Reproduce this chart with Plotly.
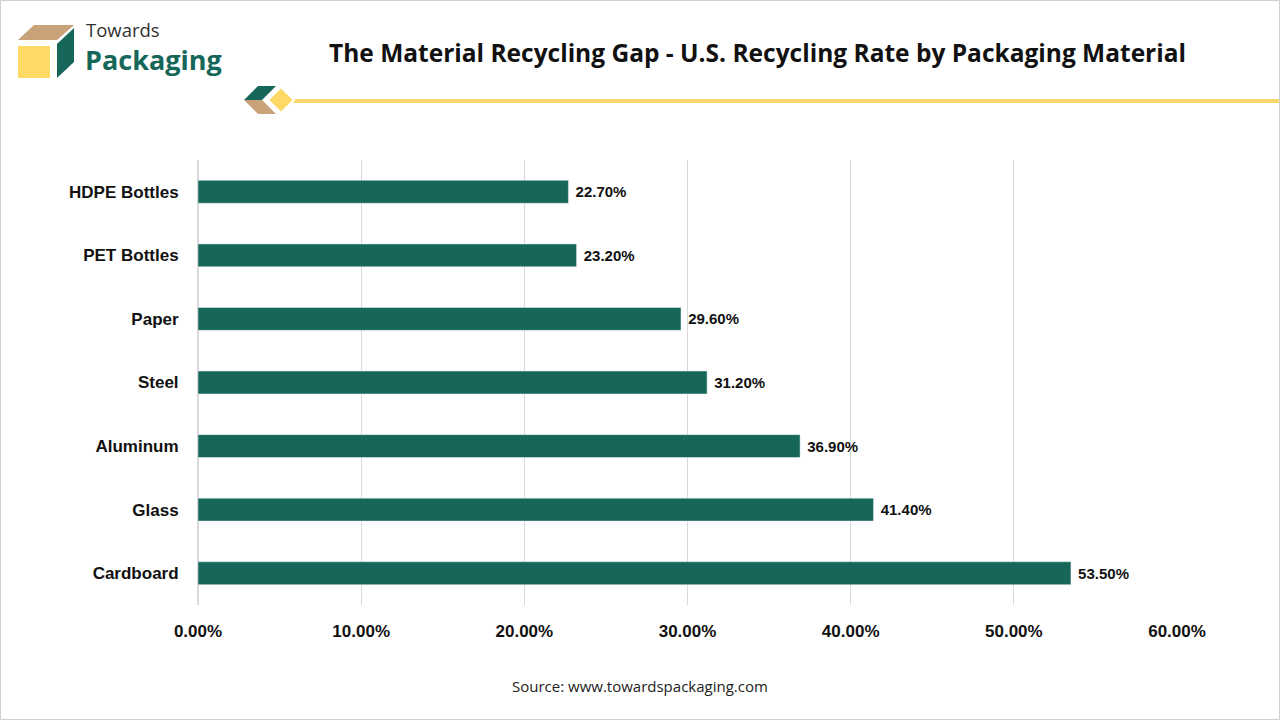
import plotly.graph_objects as go

materials = ["HDPE Bottles", "PET Bottles", "Paper", "Steel", "Aluminum", "Glass", "Cardboard"]
rates = [22.7, 23.2, 29.6, 31.2, 36.9, 41.4, 53.5]
tick_vals = [0, 10, 20, 30, 40, 50, 60]

GREEN = "#17665A"
W, H = 1280, 720
L, R, T, B = 198, 1177, 160, 605

def px(x):
    return (x - L) / (R - L)

def py(y):
    return (B - y) / (B - T)

fig = go.Figure(go.Bar(
    x=rates, y=materials, orientation="h",
    marker_color=GREEN, width=0.36,
    text=[f" {v:.2f}%" for v in rates], textposition="outside",
    textfont=dict(family="Liberation Sans", size=15, color="#111", weight="bold"),
    cliponaxis=False,
))

P = dict(xref="paper", yref="paper")
shapes = [
    dict(type="line", x0=px(288), x1=px(1290), y0=py(101), y1=py(101),
         line=dict(color="#F5D76E", width=4), **P),
    dict(type="path", path=f"M {px(244)} {py(100)} L {px(258)} {py(86)} L {px(276)} {py(86)} L {px(262)} {py(100)} Z",
         fillcolor=GREEN, line_width=0, **P),
    dict(type="path", path=f"M {px(244)} {py(100)} L {px(258)} {py(114)} L {px(276)} {py(114)} L {px(262)} {py(100)} Z",
         fillcolor="#C9A27A", line_width=0, **P),
    dict(type="path", path=f"M {px(268)} {py(100)} L {px(281)} {py(87)} L {px(294)} {py(100)} L {px(281)} {py(113)} Z",
         fillcolor="#FFD966", line=dict(color="white", width=2), **P),
    dict(type="path", path=f"M {px(18)} {py(40)} L {px(34)} {py(25)} L {px(74)} {py(25)} L {px(57)} {py(40)} Z",
         fillcolor="#C9A27A", line_width=0, **P),
    dict(type="rect", x0=px(18), x1=px(50), y0=py(78), y1=py(46),
         fillcolor="#FFD966", line_width=0, **P),
    dict(type="path", path=f"M {px(57)} {py(44)} L {px(74)} {py(28)} L {px(74)} {py(62)} L {px(57)} {py(78)} Z",
         fillcolor=GREEN, line_width=0, **P),
    dict(type="rect", x0=px(0.5), x1=px(1279.5), y0=py(0.5), y1=py(719.5),
         line=dict(color="#D0D0D0", width=1), **P),
]

M = dict(showarrow=False, yanchor="middle", **P)
annotations = [
    dict(text="<b>The Material Recycling Gap - U.S. Recycling Rate by Packaging Material</b>",
         x=px(757), y=py(53), font=dict(family="Open Sans", size=24.5, color="#111"), **M),
    dict(text="Towards", x=px(84), y=py(30), xanchor="left",
         font=dict(family="Open Sans", size=18.5, color="#333"), **M),
    dict(text="<b>Packaging</b>", x=px(83), y=py(59), xanchor="left",
         font=dict(family="Open Sans", size=27, color=GREEN), **M),
    dict(text="Source: www.towardspackaging.com", x=px(640), y=py(686),
         font=dict(family="Open Sans", size=15, color="#222"), **M),
]

fig.update_layout(
    width=W, height=H,
    margin=dict(l=L, r=W - R, t=T, b=H - B),
    paper_bgcolor="white", plot_bgcolor="white",
    shapes=shapes, annotations=annotations,
    showlegend=False,
    xaxis=dict(range=[0, 60], tickvals=tick_vals, ticktext=[f"{v:.2f}%" for v in tick_vals],
               showgrid=True, gridcolor="#D9D9D9", zeroline=True, zerolinecolor="#D9D9D9",
               tickfont=dict(family="Liberation Sans", size=17, color="#111", weight="bold"),
               ticks="outside", ticklen=11, tickcolor="white"),
    yaxis=dict(autorange="reversed", ticks="outside", ticklen=15, tickcolor="white",
               tickfont=dict(family="Liberation Sans", size=17, color="#111", weight="bold")),
)

fig.write_html("out.html", config={"displayModeBar": False},
               post_script="document.body.style.margin='0';")
